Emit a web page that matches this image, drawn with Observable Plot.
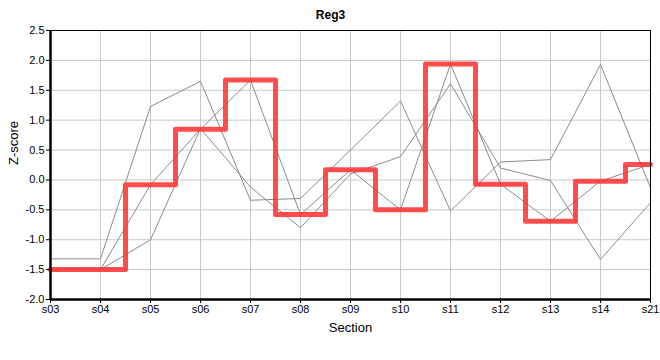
<!DOCTYPE html>
<html>
<head>
<meta charset="utf-8">
<script src="https://cdn.jsdelivr.net/npm/d3@7"></script>
<script src="https://cdn.jsdelivr.net/npm/@observablehq/plot@0.6"></script>
<style>
  html, body { margin: 0; padding: 0; background: white; }
</style>
</head>
<body>
<div id="chart"></div>
<script>
const sections = ["s03","s04","s05","s06","s07","s08","s09","s10","s11","s12","s13","s14","s21"];
const seriesA = [-1.32,-1.32,1.23,1.65,-0.34,-0.31,0.50,1.32,-0.52,0.30,0.34,1.93,-0.13];
const seriesB = [-1.50,-1.50,-0.08,0.85,1.67,-0.58,0.17,-0.50,1.94,-0.07,-0.69,-0.02,0.26];
const seriesC = [-1.50,-1.50,-1.00,0.86,-0.12,-0.80,0.10,0.39,1.61,0.20,-0.01,-1.33,-0.38];
const highlighted = seriesB;
const yTicks = [-2.0,-1.5,-1.0,-0.5,0.0,0.5,1.0,1.5,2.0,2.5];

const grayRows = [];
[["A", seriesA], ["B", seriesB], ["C", seriesC]].forEach(([name, vals]) => {
  vals.forEach((v, i) => grayRows.push({series: name, section: sections[i], value: v}));
});
const redRows = highlighted.map((v, i) => ({section: sections[i], value: v}));

const chart = Plot.plot({
  width: 660,
  height: 360,
  marginLeft: 50,
  marginRight: 10,
  marginTop: 30,
  marginBottom: 61,
  style: {fontFamily: "'Liberation Sans', Arial, sans-serif", fontSize: "11px", color: "#000", background: "white"},
  x: {type: "point", domain: sections, padding: 0},
  y: {domain: [-2, 2.5]},
  marks: [
    Plot.gridX(sections, {stroke: "#c8c8c8", strokeOpacity: 1}),
    Plot.gridY(yTicks, {stroke: "#c8c8c8", strokeOpacity: 1}),
    Plot.line(grayRows, {x: "section", y: "value", z: "series", stroke: "#8c8c8c", strokeWidth: 1}),
    Plot.line(redRows, {x: "section", y: "value", curve: "step", stroke: "#ff3333", strokeOpacity: 0.88, strokeWidth: 5}),
    Plot.frame({stroke: "black", strokeWidth: 1}),
    Plot.ruleX([sections[0]], {stroke: "black", strokeWidth: 2.5}),
    Plot.ruleY([-2], {stroke: "black", strokeWidth: 2.5}),
    Plot.axisX({ticks: sections, tickSize: 4, tickPadding: 2, label: null}),
    Plot.axisY({ticks: yTicks, tickFormat: d => d.toFixed(1), tickSize: 4, tickPadding: 2, label: null}),
    Plot.text(["Reg3"], {text: d => d, frameAnchor: "top", dy: -20, dx: -20, fontWeight: "bold", fontSize: 12}),
    Plot.text(["Section"], {text: d => d, frameAnchor: "bottom", dy: 32, fontSize: 13}),
    Plot.text(["Z-score"], {text: d => d, frameAnchor: "left", dx: -37, rotate: -90, fontSize: 13})
  ]
});
document.getElementById("chart").appendChild(chart);
</script>
</body>
</html>
